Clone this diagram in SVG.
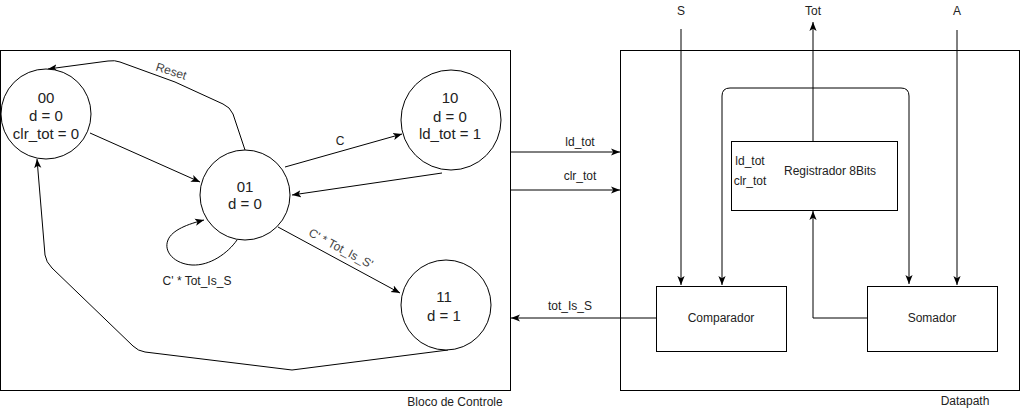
<svg xmlns="http://www.w3.org/2000/svg" width="1021" height="411" viewBox="0 0 1021 411">
  <style>
    .box { fill: none; stroke: #000; stroke-width: 1; }
    .node { fill: #fff; stroke: #000; stroke-width: 1; }
    .edge { fill: none; stroke: #000; stroke-width: 1; marker-end: url(#arr); }
    .both { marker-start: url(#arr); }
    .plain { fill: none; stroke: #000; stroke-width: 1; }
    text { font-family: "Liberation Sans", Arial, sans-serif; fill: #222; text-anchor: middle; }
    .st { font-size: 15px; }
    .lb { font-size: 12px; }
    .rot { font-size: 12px; fill: #444; }
  </style>
  <defs>
    <marker id="arr" viewBox="0 0 10 10" refX="10" refY="5" markerWidth="9" markerHeight="9" markerUnits="userSpaceOnUse" orient="auto-start-reverse">
      <path d="M0,1 L10,5 L0,9 L2.5,5 z" fill="#000"/>
    </marker>
  </defs>
  <rect width="1021" height="411" fill="#fff"/>

  <!-- block outlines -->
  <g id="bloco-controle">
    <rect class="box" x="0.5" y="50.5" width="510" height="340"/>
    <text class="lb" x="455" y="406">Bloco de Controle</text>
  </g>
  <g id="datapath">
    <rect class="box" x="620.5" y="50.5" width="399" height="340"/>
    <text class="lb" x="965" y="405">Datapath</text>
  </g>

  <!-- connectors -->
  <g id="connectors">
    <!-- FSM transitions -->
    <path class="edge" d="M90,133 L200,182"/>
    <path class="edge" d="M245,150 L233,114 Q230,107 223,104 L175,82 L120,62 Q115,60 108,61 L48,69"/>
    <text class="rot" transform="translate(170,75) rotate(18)">Reset</text>
    <path class="edge" d="M285,167 L402,134"/>
    <text class="lb" x="340" y="145">C</text>
    <path class="edge" d="M442,173 L292,195"/>
    <path class="edge" d="M237,240 C228,253 210,266 192,265 C175,264 163,252 168,240 C172,230 188,224 204,220"/>
    <text class="lb" x="197" y="285">C' * Tot_Is_S</text>
    <path class="edge" d="M278,227 L400,293"/>
    <text class="rot" transform="translate(339,252) rotate(28)">C' * Tot_Is_S'</text>
    <path class="edge" d="M448,350 L292,370 L145,352 Q138,351 133,346 L52,268 Q46,262 45,255 L37,159"/>

    <!-- control / status signals -->
    <path class="edge" d="M510,152 L620,152"/>
    <text class="lb" x="580" y="146">ld_tot</text>
    <path class="edge" d="M510,190 L620,190"/>
    <text class="lb" x="580" y="180">clr_tot</text>
    <path class="edge" d="M656,318 L511,318"/>
    <text class="lb" x="570" y="310">tot_Is_S</text>

    <!-- datapath wiring -->
    <path class="edge" d="M681,29 L681,285"/>
    <text class="lb" x="681" y="15">S</text>
    <path class="edge" d="M957,30 L957,285"/>
    <text class="lb" x="957" y="15">A</text>
    <path class="edge" d="M813,141 L813,22"/>
    <text class="lb" x="813" y="15">Tot</text>
    <path class="edge both" d="M722,285 L722,96 Q722,88 730,88 L901,88 Q909,88 909,96 L909,284"/>
    <path class="edge" d="M867,318 L813,318 L813,211"/>
  </g>

  <!-- FSM states -->
  <g id="state-00">
    <circle class="node" cx="46" cy="114" r="45"/>
    <text class="st" x="46" y="103">00</text>
    <text class="st" x="46" y="121">d = 0</text>
    <text class="st" x="46" y="139">clr_tot = 0</text>
  </g>
  <g id="state-01">
    <circle class="node" cx="245" cy="195" r="45"/>
    <text class="st" x="245" y="192">01</text>
    <text class="st" x="245" y="209">d = 0</text>
  </g>
  <g id="state-10">
    <circle class="node" cx="451" cy="120" r="50"/>
    <text class="st" x="450" y="103">10</text>
    <text class="st" x="450" y="122">d = 0</text>
    <text class="st" x="450" y="139">ld_tot = 1</text>
  </g>
  <g id="state-11">
    <circle class="node" cx="446" cy="305" r="45"/>
    <text class="st" x="444" y="302">11</text>
    <text class="st" x="444" y="321">d = 1</text>
  </g>

  <!-- datapath components -->
  <g id="registrador">
    <rect class="node" x="731.5" y="141.5" width="166" height="69"/>
    <text class="lb" x="830" y="175">Registrador 8Bits</text>
    <text class="lb" x="750" y="165">ld_tot</text>
    <text class="lb" x="750" y="185">clr_tot</text>
  </g>
  <g id="comparador">
    <rect class="node" x="656.5" y="286.5" width="130" height="65"/>
    <text class="lb" x="721" y="322">Comparador</text>
  </g>
  <g id="somador">
    <rect class="node" x="867.5" y="286.5" width="130" height="65"/>
    <text class="lb" x="932" y="322">Somador</text>
  </g>
</svg>
